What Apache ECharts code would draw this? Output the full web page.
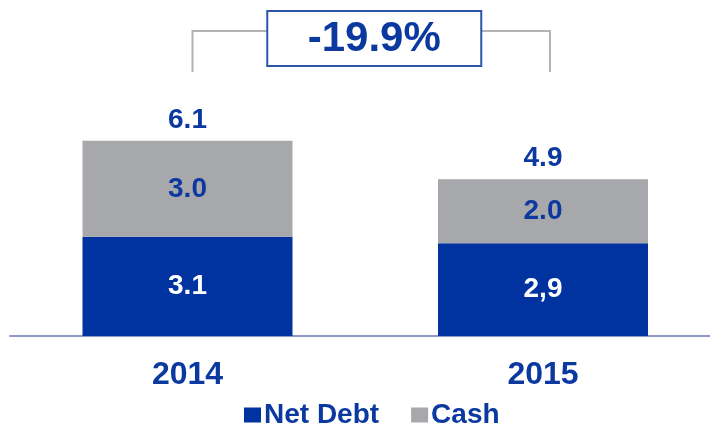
<!DOCTYPE html>
<html>
<head>
<meta charset="utf-8">
<script src="https://cdn.jsdelivr.net/npm/echarts@6/dist/echarts.min.js"></script>
<style>
  html, body { margin: 0; padding: 0; background: #fff; }
  #main { width: 710px; height: 425px; }
</style>
</head>
<body>
<div id="main"></div>
<script>
// data
var years = ['2014', '2015']
var netDebt = [3.1, 2.9]
var cash = [3.0, 2.0]
var totals = [6.1, 4.9]
var netDebtLabels = ['3.1', '2,9']
var changeLabel = '-19.9%'

var BLUE = '#0033a0'
var TEXT = '#0b399f'
var GREY = '#a7a8ab'
var FONT = 'Liberation Sans, Arial, sans-serif'

var labelStyle = { fontSize: 28, fontWeight: 'bold', fontFamily: FONT }

var chart = echarts.init(document.getElementById('main'))
chart.setOption({
  backgroundColor: '#fff',
  animation: false,
  // grid 0 holds the bars (ticks at the bar centres), grid 1 only draws the base line
  grid: [
    { left: 187.5, width: 355.5, top: 16, bottom: 89 },
    { left: 10, right: 0, top: 16, bottom: 89 }
  ],
  legend: {
    data: ['Net Debt', 'Cash'],
    left: 239,
    top: 396,
    icon: 'rect',
    itemWidth: 17,
    itemHeight: 15,
    itemGap: 32,
    itemStyle: { borderWidth: 0 },
    textStyle: { color: TEXT, fontSize: 28, fontWeight: 'bold', fontFamily: FONT, padding: [0, 0, 0, -2] }
  },
  xAxis: [
    {
      type: 'category',
      gridIndex: 0,
      data: years,
      boundaryGap: false,
      axisTick: { show: false },
      axisLine: { show: false },
      axisLabel: { color: TEXT, fontSize: 32, fontWeight: 'bold', fontFamily: FONT, margin: 23 }
    },
    {
      type: 'category',
      gridIndex: 1,
      data: years,
      axisTick: { show: false },
      axisLabel: { show: false },
      axisLine: { lineStyle: { color: '#9098c8', width: 2 } }
    }
  ],
  yAxis: [
    { type: 'value', gridIndex: 0, min: 0, max: 10, show: false },
    { type: 'value', gridIndex: 1, min: 0, max: 10, show: false }
  ],
  series: [
    {
      name: 'Net Debt',
      type: 'bar',
      stack: 'a',
      barWidth: 210,
      z: 3,
      itemStyle: { color: BLUE },
      label: Object.assign({
        show: true,
        position: 'inside',
        color: '#fff',
        formatter: function (p) { return netDebtLabels[p.dataIndex] }
      }, labelStyle),
      data: netDebt
    },
    {
      name: 'Cash',
      type: 'bar',
      stack: 'a',
      barWidth: 210,
      z: 3,
      itemStyle: { color: GREY },
      label: Object.assign({
        show: true,
        position: 'inside',
        color: TEXT,
        formatter: function (p) { return p.value.toFixed(1) }
      }, labelStyle),
      data: cash
    },
    {
      name: 'Total',
      type: 'bar',
      barWidth: 210,
      barGap: '-100%',
      z: 1,
      itemStyle: { color: 'rgba(0,0,0,0)' },
      label: Object.assign({
        show: true,
        position: 'top',
        distance: 7,
        color: TEXT,
        formatter: function (p) { return p.value.toFixed(1) }
      }, labelStyle),
      data: totals
    }
  ]
})

// bracket with the change label, placed from the axis positions
var x1 = chart.convertToPixel({ xAxisIndex: 0 }, years[0]) + 5
var x2 = chart.convertToPixel({ xAxisIndex: 0 }, years[1]) + 7
var mid = (x1 + x2) / 2 + 3
var boxW = 214, boxH = 55, lineY = 31, lineBottom = 72
var lineStyle = { stroke: '#b3b3b3', lineWidth: 2, fill: null }
chart.setOption({
  graphic: [
    { type: 'polyline', shape: { points: [[x1, lineBottom], [x1, lineY], [mid - boxW / 2, lineY]] }, style: lineStyle },
    { type: 'polyline', shape: { points: [[mid + boxW / 2, lineY], [x2, lineY], [x2, lineBottom]] }, style: lineStyle },
    {
      type: 'rect',
      shape: { x: mid - boxW / 2, y: 11, width: boxW, height: boxH },
      style: { fill: '#fff', stroke: '#2d55a8', lineWidth: 2 }
    },
    {
      type: 'text',
      x: mid,
      y: 11 + boxH / 2 + 1,
      style: {
        text: changeLabel,
        fill: TEXT,
        font: 'bold 42px ' + FONT,
        align: 'center',
        verticalAlign: 'middle'
      }
    }
  ]
})

window.addEventListener('resize', function () {
  chart.resize()
})
</script>
</body>
</html>
